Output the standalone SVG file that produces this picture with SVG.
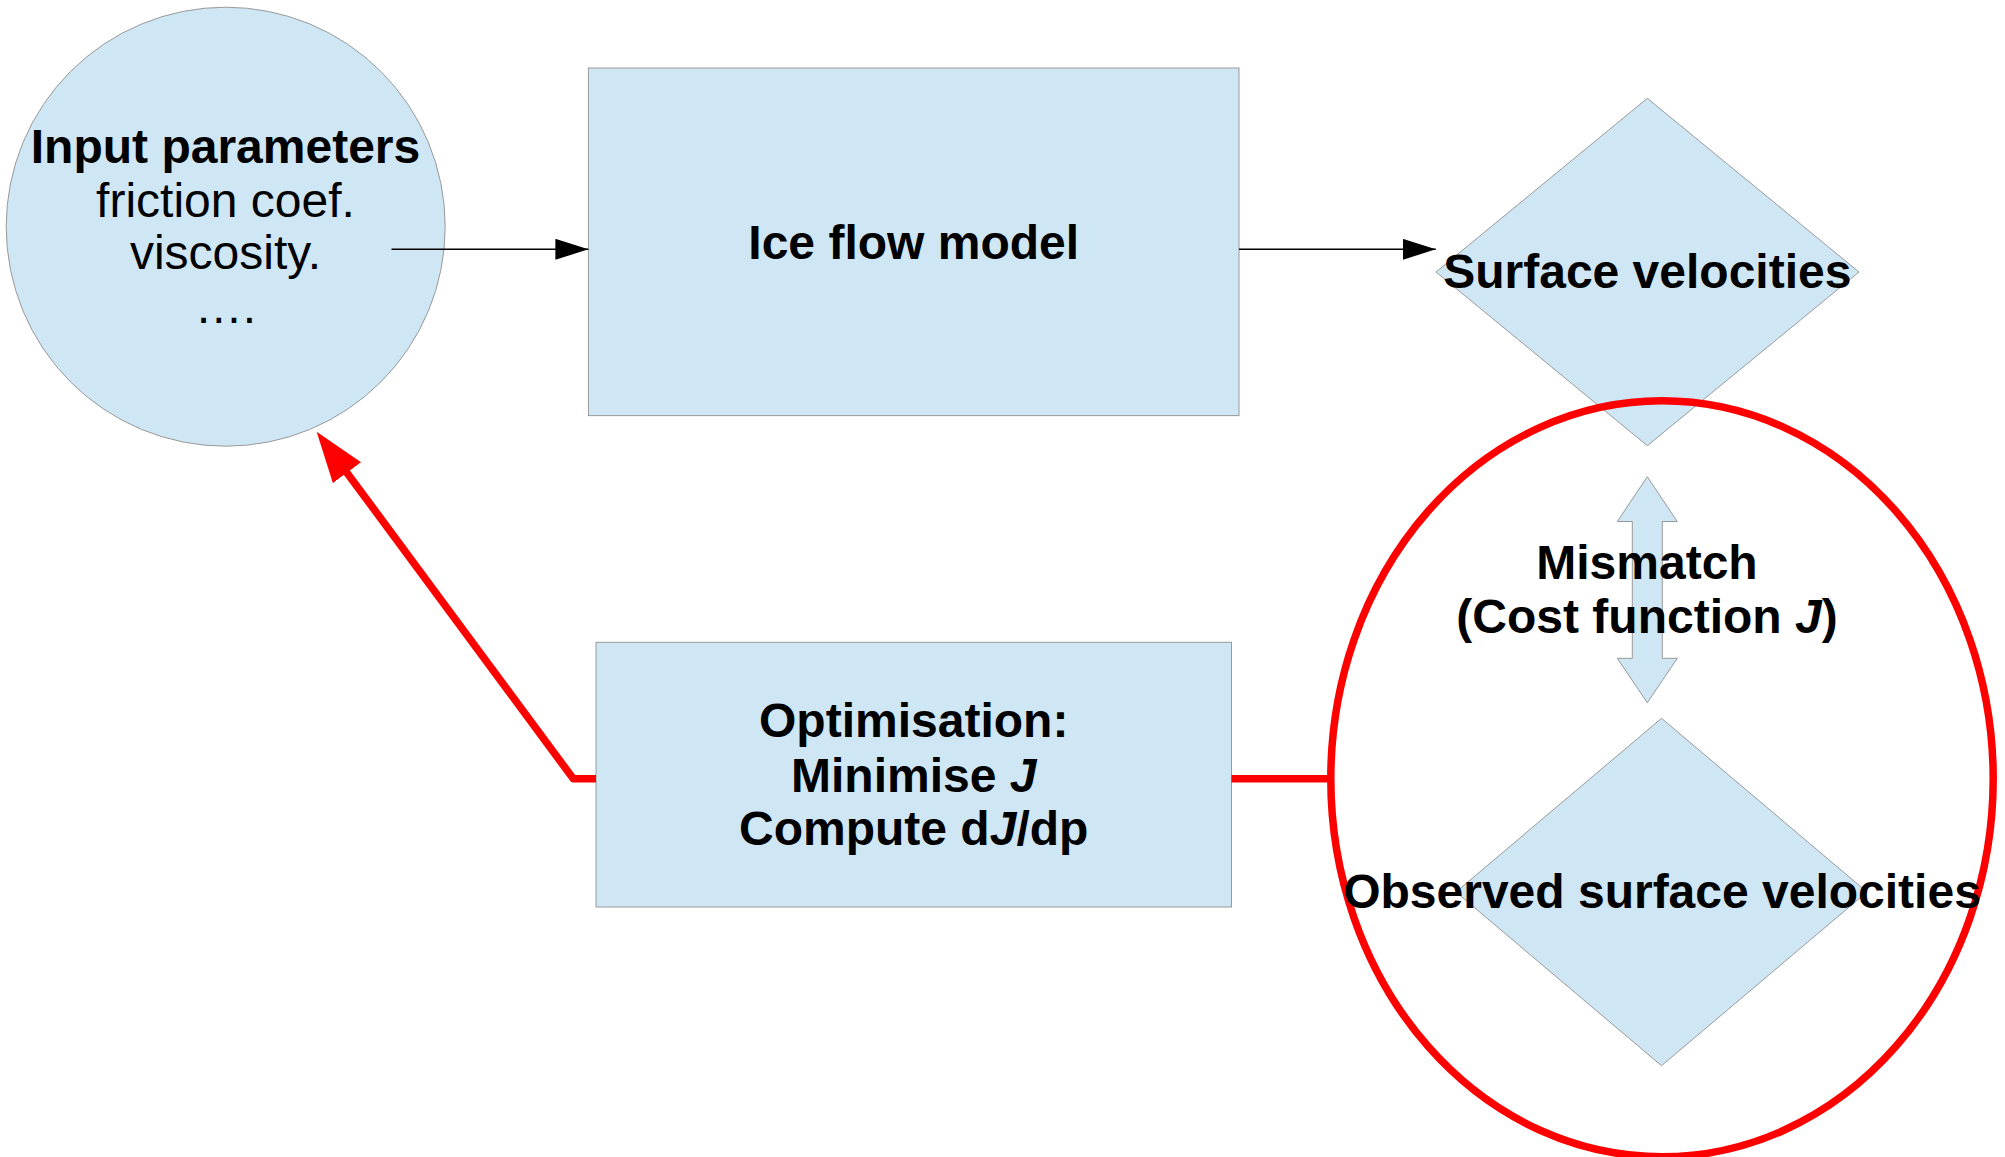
<svg xmlns="http://www.w3.org/2000/svg" width="2005" height="1157" viewBox="0 0 2005 1157">
<style>
.shape{fill:#cfe6f4;stroke:#999999;stroke-width:1}
.t{font-family:"Liberation Sans",Arial,Helvetica,sans-serif;font-size:48px;fill:#000;text-anchor:middle}
.b{font-weight:bold}
.blk{stroke:#000;stroke-width:1.5;fill:none}
.red{stroke:#ff0000;stroke-width:7.5;fill:none;stroke-linejoin:round}
</style>
<defs>
<marker id="ah" markerUnits="userSpaceOnUse" markerWidth="34" markerHeight="22" refX="33" refY="10.5" orient="auto">
<path d="M0,0 L33,10.5 L0,21 z" fill="#000"/>
</marker>
<marker id="ahRed" markerUnits="userSpaceOnUse" markerWidth="52" markerHeight="36" refX="6" refY="17.5" orient="auto">
<path d="M0,0 L51,17.5 L0,35 z" fill="#ff0000"/>
</marker>
</defs>
<rect width="2005" height="1157" fill="#ffffff"/>

<g id="input-parameters">
<circle class="shape" cx="225.7" cy="226.7" r="219.5"/>
<text class="t b" x="225.5" y="163.3">Input parameters</text>
<text class="t" x="225.5" y="216.7">friction coef.</text>
<text class="t" x="225.5" y="269.3">viscosity.</text>
<text class="t" x="225.5" y="323">….</text>
</g>

<g id="ice-flow-model">
<rect class="shape" x="588.4" y="68" width="650.6" height="347.6"/>
<text class="t b" x="913.7" y="259.3">Ice flow model</text>
</g>

<g id="surface-velocities">
<polygon class="shape" points="1647.3,98.3 1859,272 1647.3,445.7 1436,272"/>
<text class="t b" x="1647.3" y="288.3">Surface velocities</text>
</g>

<g id="highlight">
<ellipse cx="1662" cy="778.8" rx="331.2" ry="378" class="red"/>
</g>

<g id="optimisation">
<rect class="shape" x="596" y="642.3" width="635.5" height="264.7"/>
<text class="t b" x="913.7" y="737.3">Optimisation:</text>
<text class="t b" x="913.7" y="791.7">Minimise <tspan font-style="italic">J</tspan></text>
<text class="t b" x="913.7" y="845">Compute d<tspan font-style="italic">J</tspan>/dp</text>
</g>

<g id="observed-surface-velocities">
<polygon class="shape" points="1661.5,718.3 1867,892 1661.5,1065.7 1456,892"/>
<text class="t b" x="1662" y="908.3">Observed surface velocities</text>
</g>

<g id="mismatch">
<polygon class="shape" points="1647.3,476.7 1677.3,521.5 1662.3,521.5 1662.3,658.3 1677.3,658.3 1647.3,702.7 1617.3,658.3 1632.3,658.3 1632.3,521.5 1617.3,521.5"/>
<text class="t b" x="1647" y="579.3">Mismatch</text>
<text class="t b" x="1647" y="632.7">(Cost function <tspan font-style="italic">J</tspan>)</text>
</g>

<g id="connectors">
<line class="blk" x1="391.5" y1="249.3" x2="588.4" y2="249.3" marker-end="url(#ah)"/>
<line class="blk" x1="1239" y1="249.3" x2="1435.8" y2="249.3" marker-end="url(#ah)"/>
<path class="red" d="M1231.5,778.8 H1328"/>
<path class="red" d="M596,778.8 H573.3 L343.4,467.9" marker-end="url(#ahRed)"/>
</g>
</svg>
